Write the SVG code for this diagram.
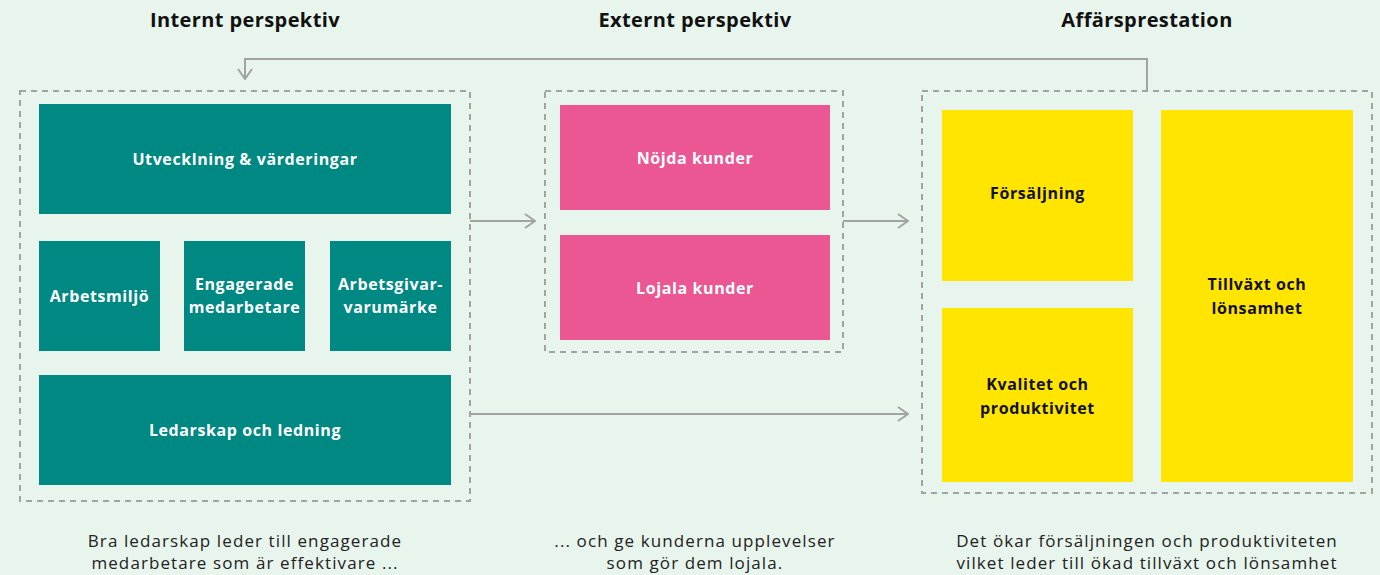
<svg xmlns="http://www.w3.org/2000/svg" width="1380" height="575" viewBox="0 0 1380 575">
<defs>
<style>
.bg{fill:#e8f5ec}
.frame{fill:none;stroke:#a3a3a3;stroke-width:2;stroke-dasharray:6 5}
.teal{fill:#008882}
.pink{fill:#eb5793}
.yellow{fill:#ffe500}
.conn{fill:none;stroke:#a3a3a3;stroke-width:2}
.title{font-family:"Open Sans","Liberation Sans",sans-serif;font-weight:700;font-size:20px;letter-spacing:0.4px;fill:#111;text-anchor:middle}
.lw{font-family:"Open Sans","Liberation Sans",sans-serif;font-weight:700;font-size:16px;letter-spacing:0.6px;fill:#fff;text-anchor:middle}
.lb{font-family:"Open Sans","Liberation Sans",sans-serif;font-weight:700;font-size:16px;letter-spacing:0.6px;fill:#111;text-anchor:middle}
.cap{font-family:"Open Sans","Liberation Sans",sans-serif;font-size:17px;letter-spacing:1.1px;fill:#222;text-anchor:middle}
</style>
<marker id="arr" viewBox="0 0 12 16" refX="11" refY="8" markerWidth="12" markerHeight="16" markerUnits="userSpaceOnUse" orient="auto">
<path d="M1,1 L11,8 L1,15" fill="none" stroke="#a3a3a3" stroke-width="2"/>
</marker>
</defs>
<rect class="bg" x="0" y="0" width="1380" height="575"/>

<g id="titles">
<text class="title" x="245" y="27">Internt perspektiv</text>
<text class="title" x="695" y="27">Externt perspektiv</text>
<text class="title" x="1147" y="27">Affärsprestation</text>
</g>

<g id="frames">
<rect id="frame-intern" class="frame" x="20" y="91" width="450" height="410"/>
<rect id="frame-extern" class="frame" x="545" y="91" width="298" height="261"/>
<rect id="frame-affar" class="frame" x="922" y="91" width="450" height="402"/>
</g>

<g id="connectors">
<path class="conn" d="M1147,91 V59 H245 V79" marker-end="url(#arr)"/>
<path class="conn" d="M470,221 H535" marker-end="url(#arr)"/>
<path class="conn" d="M843,221 H908" marker-end="url(#arr)"/>
<path class="conn" d="M470,414 H908" marker-end="url(#arr)"/>
</g>

<g id="n-utveckling">
<rect class="teal" x="39" y="104" width="412" height="110"/>
<text class="lw" x="245" y="165">Utvecklning &amp; värderingar</text>
</g>
<g id="n-arbetsmiljo">
<rect class="teal" x="39" y="241" width="121" height="110"/>
<text class="lw" x="99.5" y="302">Arbetsmiljö</text>
</g>
<g id="n-engagerade">
<rect class="teal" x="184" y="241" width="121" height="110"/>
<text class="lw" x="244.5" y="290">Engagerade</text>
<text class="lw" x="244.5" y="313">medarbetare</text>
</g>
<g id="n-arbetsgivar">
<rect class="teal" x="330" y="241" width="121" height="110"/>
<text class="lw" x="390.5" y="290">Arbetsgivar-</text>
<text class="lw" x="390.5" y="313">varumärke</text>
</g>
<g id="n-ledarskap">
<rect class="teal" x="39" y="375" width="412" height="110"/>
<text class="lw" x="245" y="436">Ledarskap och ledning</text>
</g>

<g id="n-nojda">
<rect class="pink" x="560" y="105" width="270" height="105"/>
<text class="lw" x="695" y="164">Nöjda kunder</text>
</g>
<g id="n-lojala">
<rect class="pink" x="560" y="235" width="270" height="105"/>
<text class="lw" x="695" y="294">Lojala kunder</text>
</g>

<g id="n-forsaljning">
<rect class="yellow" x="942" y="110" width="191" height="171"/>
<text class="lb" x="1037.5" y="199">Försäljning</text>
</g>
<g id="n-kvalitet">
<rect class="yellow" x="942" y="308" width="191" height="174"/>
<text class="lb" x="1037.5" y="390">Kvalitet och</text>
<text class="lb" x="1037.5" y="414">produktivitet</text>
</g>
<g id="n-tillvaxt">
<rect class="yellow" x="1161" y="110" width="192" height="372"/>
<text class="lb" x="1257" y="290">Tillväxt och</text>
<text class="lb" x="1257" y="314">lönsamhet</text>
</g>

<g id="captions">
<text class="cap" x="245" y="547">Bra ledarskap leder till engagerade</text>
<text class="cap" x="245" y="569">medarbetare som är effektivare ...</text>
<text class="cap" x="695" y="547">... och ge kunderna upplevelser</text>
<text class="cap" x="695" y="569">som gör dem lojala.</text>
<text class="cap" x="1147" y="547">Det ökar försäljningen och produktiviteten</text>
<text class="cap" x="1147" y="569">vilket leder till ökad tillväxt och lönsamhet</text>
</g>
</svg>
